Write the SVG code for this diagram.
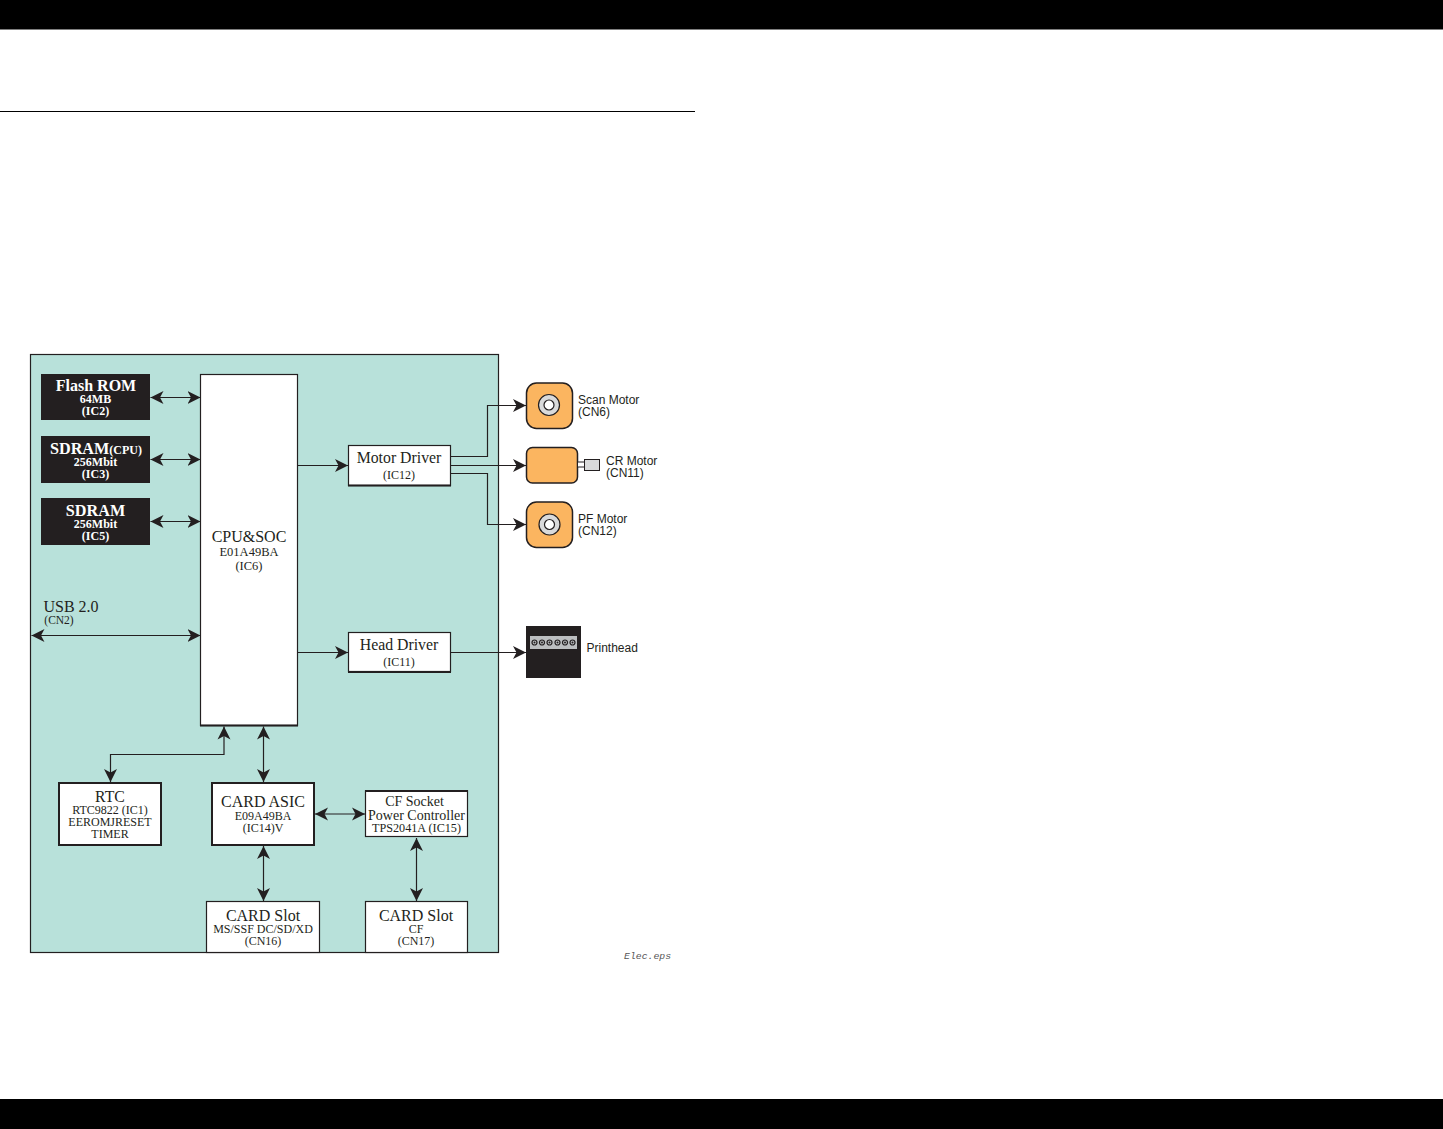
<svg xmlns="http://www.w3.org/2000/svg" width="1443" height="1129" viewBox="0 0 1443 1129">
<style>
text{font-family:"Liberation Serif","Times New Roman",serif;fill:#231f20;text-anchor:middle}
.w{fill:#fff;font-weight:bold}
.s{font-family:"Liberation Sans",Arial,sans-serif;text-anchor:start}
.t17{font-size:16px}.t15{font-size:15.800px}.t11{font-size:12px}.t12{font-size:12.500px}
.box{fill:#fff;stroke:#231f20;stroke-width:1.2}
.dark{fill:#231f20}
.m{fill:#fbb560;stroke:#231f20;stroke-width:1.5}
.c{fill:none;stroke:#231f20;stroke-width:1.2}
.ar{marker-end:url(#a)}
.br{marker-start:url(#a);marker-end:url(#a)}
.hub{fill:#d9dadb;stroke:#231f20;stroke-width:1.2}
</style>
<defs>
<marker id="a" markerUnits="userSpaceOnUse" markerWidth="15" markerHeight="14" refX="13" refY="7" orient="auto-start-reverse" viewBox="0 0 15 14">
<path d="M0 0.500L13 7L0 13.500L3.500 7Z" fill="#231f20"/>
</marker>
<g id="hole"><circle r="2.500" fill="#bcbec0" stroke="#231f20" stroke-width="1.200"/><circle r="1" fill="#231f20"/></g>
</defs>
<rect id="bar-top" width="1443" height="29.500" fill="#000"/>
<rect id="bar-bottom" y="1099" width="1443" height="30" fill="#000"/>
<path id="rule" d="M0 111.500H695" stroke="#000" stroke-width="1" fill="none"/>
<rect id="panel" x="30.500" y="354.500" width="468" height="598" fill="#b8e1da" stroke="#231f20" stroke-width="1.2"/>
<g id="connectors">
<path class="c br" d="M150.500 397.500H200.500"/>
<path class="c br" d="M150.500 459.500H200.500"/>
<path class="c br" d="M150.500 521.500H200.500"/>
<path class="c br" d="M31.500 635.500H200.500"/>
<path class="c ar" d="M297.500 465.500H348"/>
<path class="c ar" d="M297.500 652.500H348"/>
<path class="c ar" d="M451 456.500H487.500V405.500H526"/>
<path class="c ar" d="M451 465.500H526"/>
<path class="c ar" d="M451 473.500H487.500V524.500H526"/>
<path class="c ar" d="M451 652.500H526"/>
<path class="c br" d="M224 726.500V754.500H110.500V782"/>
<path class="c br" d="M263.500 726.500V782"/>
<path class="c br" d="M263.500 846V901"/>
<path class="c br" d="M315 814H365"/>
<path class="c br" d="M416.500 838V901"/>
</g>
<g id="flash"><rect class="dark" x="41" y="374" width="109" height="46"/>
<text class="w" x="96" y="391" font-size="16">Flash ROM</text><text class="w t11" x="95.500" y="403">64MB</text><text class="w t11" x="95.500" y="415">(IC2)</text></g>
<g id="sdram-cpu"><rect class="dark" x="41" y="436" width="109" height="47"/>
<text class="w" x="96" y="454" font-size="16.200">SDRAM<tspan font-size="12">(CPU)</tspan></text><text class="w t11" x="95.500" y="465.500">256Mbit</text><text class="w t11" x="95.500" y="477.500">(IC3)</text></g>
<g id="sdram"><rect class="dark" x="41" y="498" width="109" height="47"/>
<text class="w" x="95.500" y="516" font-size="16.200">SDRAM</text><text class="w t11" x="95.500" y="527.500">256Mbit</text><text class="w t11" x="95.500" y="540">(IC5)</text></g>
<g id="usb"><text class="t17" x="71" y="612">USB 2.0</text><text x="59" y="624" font-size="11.500">(CN2)</text></g>
<g id="cpu"><rect class="box" x="200.500" y="374.500" width="97" height="351"/><path d="M200 725.500H298" stroke="#231f20" stroke-width="2"/>
<text class="t17" x="249" y="542">CPU&amp;SOC</text><text class="t12" x="249" y="556">E01A49BA</text><text class="t12" x="249" y="570">(IC6)</text></g>
<g id="motor-driver"><rect class="box" x="348.500" y="445.500" width="102" height="40"/><path d="M348 485.500H451" stroke="#231f20" stroke-width="2"/>
<text class="t15" x="399" y="463">Motor Driver</text><text class="t11" x="399" y="479">(IC12)</text></g>
<g id="head-driver"><rect class="box" x="348.500" y="632.500" width="102" height="39"/><path d="M348 672H451" stroke="#231f20" stroke-width="2"/>
<text class="t15" x="399" y="650">Head Driver</text><text class="t11" x="399" y="666">(IC11)</text></g>
<g id="rtc"><rect class="box" x="59" y="783" width="102" height="62" style="stroke-width:2"/>
<text class="t15" x="110" y="802">RTC</text><text class="t11" x="110" y="814">RTC9822 (IC1)</text><text class="t11" x="110" y="826">EEROMJRESET</text><text class="t11" x="110" y="838">TIMER</text></g>
<g id="card-asic"><rect class="box" x="212" y="783" width="102" height="62" style="stroke-width:2"/>
<text class="t17" x="263" y="807">CARD ASIC</text><text class="t11" x="263" y="820">E09A49BA</text><text class="t11" x="263" y="832">(IC14)V</text></g>
<g id="cf-socket"><rect class="box" x="365.500" y="791" width="102" height="45.500"/><path d="M365 791H468" stroke="#231f20" stroke-width="2"/>
<text x="414.500" y="805.500" font-size="14">CF Socket</text><text x="416.500" y="820" font-size="14">Power Controller</text><text x="416.500" y="832" font-size="12.200">TPS2041A (IC15)</text></g>
<g id="card-slot-1"><rect class="box" x="206.500" y="901.500" width="113" height="51"/>
<text class="t17" x="263" y="921">CARD Slot</text><text class="t11" x="263" y="933">MS/SSF DC/SD/XD</text><text class="t11" x="263" y="945">(CN16)</text></g>
<g id="card-slot-2"><rect class="box" x="365.500" y="901.500" width="102" height="51"/>
<text class="t17" x="416" y="921">CARD Slot</text><text class="t11" x="416" y="933">CF</text><text class="t11" x="416" y="945">(CN17)</text></g>
<g id="scan-motor"><rect class="m" x="526.500" y="383" width="46" height="45.500" rx="10"/><circle class="hub" cx="549" cy="405" r="10.500"/><circle cx="549" cy="405" r="5" fill="#fff" stroke="#231f20" stroke-width="1.200"/>
<text class="s" x="578" y="404" font-size="12">Scan Motor</text><text class="s" x="578" y="416" font-size="12">(CN6)</text></g>
<g id="cr-motor"><rect class="m" x="526.500" y="447.500" width="51" height="35.500" rx="6"/><rect x="577.500" y="462" width="7" height="5" fill="#fff" stroke="#231f20"/><rect x="584.500" y="459.500" width="15" height="11" fill="#d9dadb" stroke="#231f20"/>
<text class="s" x="606" y="465" font-size="12">CR Motor</text><text class="s" x="606" y="477" font-size="12">(CN11)</text></g>
<g id="pf-motor"><rect class="m" x="526.500" y="502" width="46" height="45.500" rx="10"/><circle class="hub" cx="549.500" cy="524.500" r="10.500"/><circle cx="549.500" cy="524.500" r="5" fill="#fff" stroke="#231f20" stroke-width="1.200"/>
<text class="s" x="578" y="523" font-size="12">PF Motor</text><text class="s" x="578" y="535" font-size="12">(CN12)</text></g>
<g id="printhead"><rect class="dark" x="526" y="626" width="55" height="52"/><rect x="530" y="636" width="47" height="13" fill="#bcbec0"/>
<use href="#hole" x="534.500" y="642.500"/><use href="#hole" x="542" y="642.500"/><use href="#hole" x="549.500" y="642.500"/><use href="#hole" x="557.500" y="642.500"/><use href="#hole" x="565" y="642.500"/><use href="#hole" x="572.500" y="642.500"/>
<text class="s" x="586.500" y="652" font-size="12">Printhead</text></g>
<text id="caption" x="624" y="959" font-size="9.800" style="font-family:'Liberation Mono',monospace;font-style:italic;text-anchor:start;fill:#555">Elec.eps</text>
</svg>
